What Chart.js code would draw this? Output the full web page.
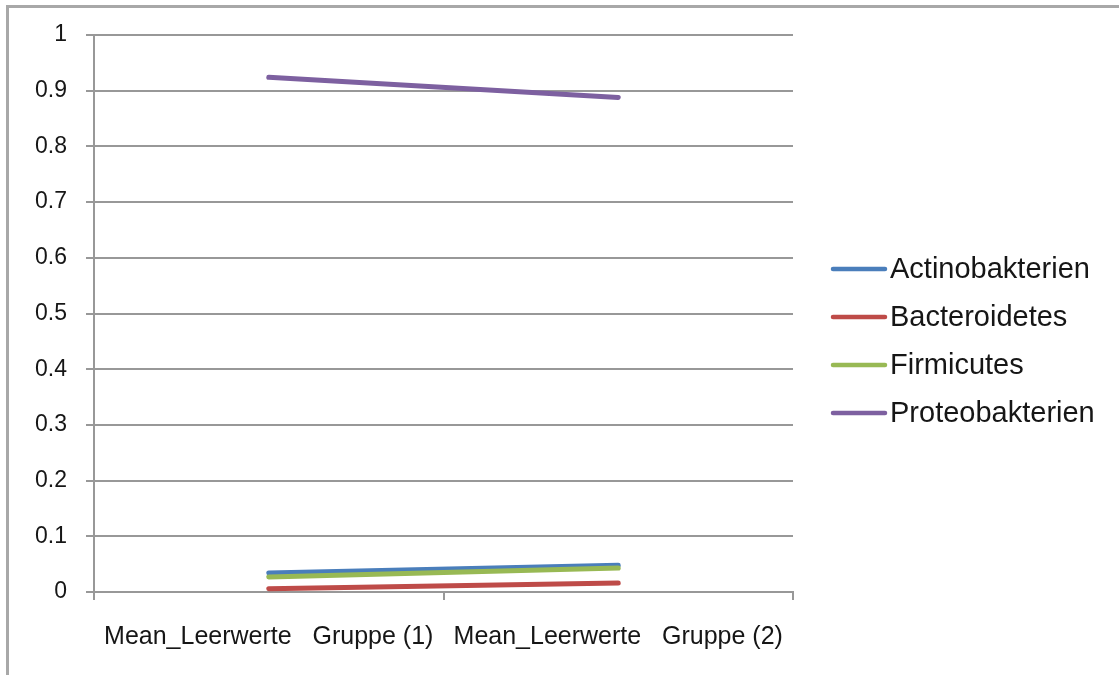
<!DOCTYPE html>
<html lang="de">
<head>
<meta charset="utf-8">
<title>Mittelwerte je Gruppe</title>
<script src="https://cdn.jsdelivr.net/npm/chart.js@4/dist/chart.umd.min.js"></script>
<style>
  html, body { margin: 0; padding: 0; background: #ffffff; }
  #wrap { width: 1119px; height: 675px; position: relative; }
  canvas { display: block; }
</style>
</head>
<body>
<div id="wrap"><canvas id="c" width="1119" height="675"></canvas></div>
<script>
// Categories along the x axis
const categories = ['Mean_Leerwerte   Gruppe (1)', 'Mean_Leerwerte   Gruppe (2)'];

// Series names and their mean values per group
const seriesNames = ['Actinobakterien', 'Bacteroidetes', 'Firmicutes', 'Proteobakterien'];
const actinobakterien = [0.034, 0.048];
const bacteroidetes = [0.006, 0.016];
const firmicutes = [0.027, 0.043];
const proteobakterien = [0.924, 0.888];

// Y axis tick labels, 0 to 1 in steps of 0.1
const yTickLabels = ['0', '0.1', '0.2', '0.3', '0.4', '0.5', '0.6', '0.7', '0.8', '0.9', '1'];

const seriesValues = [actinobakterien, bacteroidetes, firmicutes, proteobakterien];
const seriesColors = ['#4a7ebb', '#be4b48', '#98b954', '#7d60a0'];

const FONT = "'Liberation Sans', Arial, sans-serif";
const TEXT = '#161616';
const GRID = '#989898';

const datasets = seriesNames.map((name, i) => ({
  label: name,
  data: seriesValues[i],
  borderColor: seriesColors[i],
  backgroundColor: seriesColors[i],
  borderWidth: 5,
  borderCapStyle: 'round',
  borderJoinStyle: 'round',
  pointRadius: 0,
  pointHoverRadius: 0,
  tension: 0,
  fill: false,
  clip: false,
  // later series are painted on top of earlier ones
  order: seriesNames.length - i
}));

// Outer frame around the chart
const framePlugin = {
  id: 'frame',
  beforeDraw(chart) {
    const ctx = chart.ctx;
    ctx.save();
    ctx.fillStyle = '#ffffff';
    ctx.fillRect(0, 0, chart.width, chart.height);
    ctx.strokeStyle = '#a8a8a8';
    ctx.lineWidth = 3;
    ctx.beginPath();
    ctx.moveTo(7.5, chart.height);
    ctx.lineTo(7.5, 6.5);
    ctx.lineTo(chart.width, 6.5);
    ctx.stroke();
    ctx.restore();
  }
};

// Legend to the right of the plot: a short line sample followed by the series name
const sideLegend = {
  id: 'sideLegend',
  afterDraw(chart) {
    const ctx = chart.ctx;
    const x0 = 833, x1 = 885, tx = 890;
    const yStart = 269, step = 48;
    ctx.save();
    ctx.font = '29px ' + FONT;
    ctx.textBaseline = 'middle';
    ctx.textAlign = 'left';
    chart.data.datasets.forEach((ds, i) => {
      const y = yStart + i * step;
      ctx.strokeStyle = ds.borderColor;
      ctx.lineWidth = 4.5;
      ctx.lineCap = 'round';
      ctx.beginPath();
      ctx.moveTo(x0, y);
      ctx.lineTo(x1, y);
      ctx.stroke();
      ctx.fillStyle = TEXT;
      ctx.fillText(ds.label, tx, y + 1);
    });
    ctx.restore();
  }
};

new Chart(document.getElementById('c'), {
  type: 'line',
  data: { labels: categories, datasets },
  plugins: [framePlugin, sideLegend],
  options: {
    responsive: false,
    devicePixelRatio: 1,
    animation: false,
    events: [],
    layout: { padding: { left: 0, top: 35, right: 326, bottom: 0 } },
    plugins: {
      legend: { display: false },
      tooltip: { enabled: false },
      title: { display: false }
    },
    scales: {
      x: {
        type: 'category',
        offset: true,
        afterFit(scale) { scale.height = 83; },
        grid: {
          offset: true,
          drawOnChartArea: false,
          drawTicks: true,
          tickLength: 8,
          color: GRID,
          lineWidth: 2
        },
        border: { display: true, color: GRID, width: 2 },
        ticks: {
          autoSkip: false,
          maxRotation: 0,
          minRotation: 0,
          padding: 22,
          color: TEXT,
          font: { family: FONT, size: 25 }
        }
      },
      y: {
        min: 0,
        max: 1,
        afterFit(scale) { scale.width = 94; },
        grid: {
          drawTicks: true,
          tickLength: 8,
          color: GRID,
          lineWidth: 2
        },
        border: { display: true, color: GRID, width: 2 },
        ticks: {
          stepSize: 0.1,
          padding: 19,
          color: TEXT,
          font: { family: FONT, size: 23 },
          callback: (v) => yTickLabels[Math.round(v * 10)]
        }
      }
    }
  }
});
</script>
</body>
</html>
